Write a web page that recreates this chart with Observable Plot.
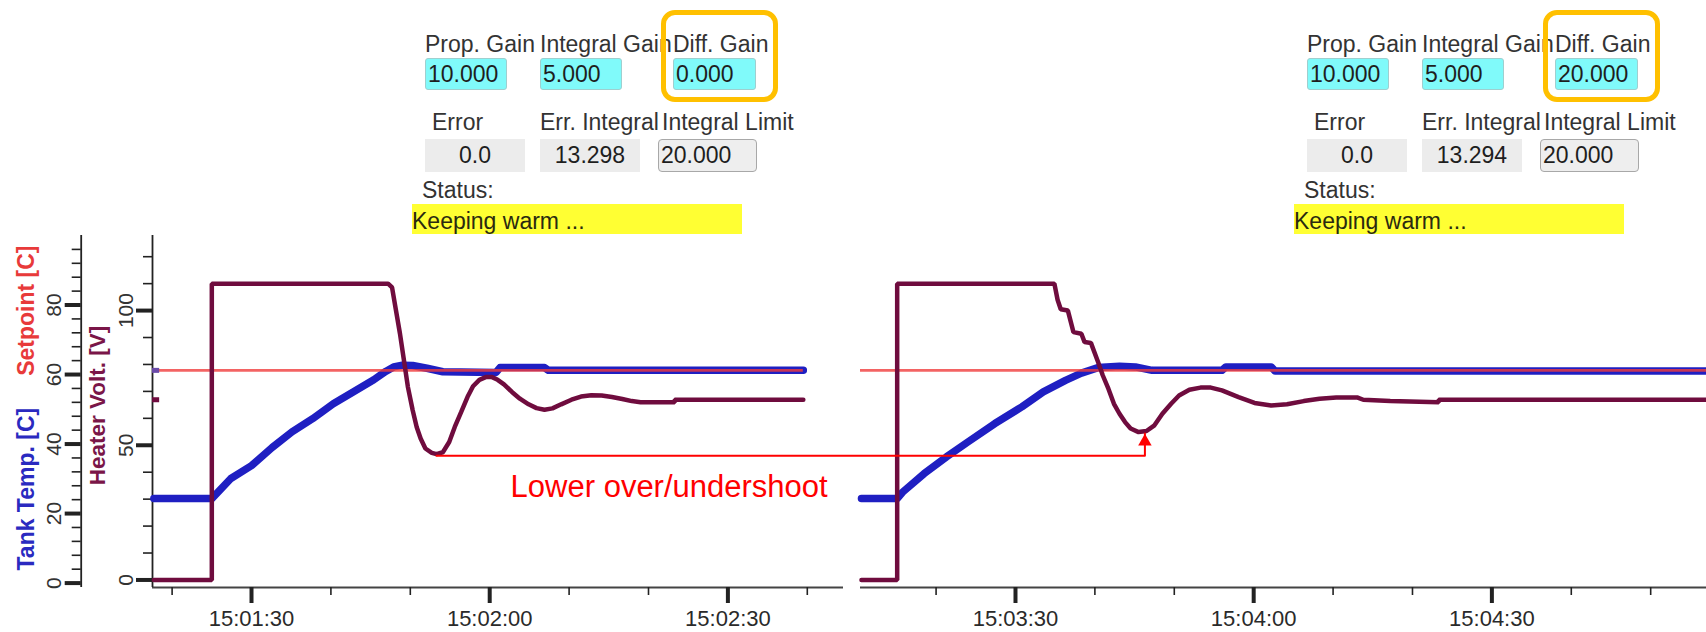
<!DOCTYPE html>
<html><head><meta charset="utf-8">
<script src="https://cdn.jsdelivr.net/npm/d3@7"></script>
<script src="https://cdn.jsdelivr.net/npm/@observablehq/plot@0.6"></script>
<style>
body{margin:0;background:#fff;}
#wrap{position:relative;width:1706px;height:632px;overflow:hidden;font-family:"Liberation Sans",Arial,sans-serif;background:#fff;}
#wrap svg{position:absolute;left:0;top:0;}
.lbl{position:absolute;font-size:23px;line-height:1;color:#333;white-space:nowrap;}
.box{position:absolute;box-sizing:border-box;font-size:23px;white-space:nowrap;color:#1e1e1e;}
</style></head><body><div id="wrap"></div>
<script>
// ---------- data ----------
const leftWindow  = ["15:01:17.53", "15:02:44.56"];
const rightWindow = ["15:03:10.48", "15:04:57.03"];
const setpoint = 61.2;

const leftHeater = [
 ["15:01:17.7",0],["15:01:25.0",0],["15:01:25.0",110],["15:01:47.2",110],["15:01:47.7",108.6],
 ["15:01:48.2",100],["15:01:48.7",91.4],["15:01:49.2",81.5],["15:01:49.7",71.6],["15:01:50.3",63.0],
 ["15:01:50.8",56.8],["15:01:51.3",52.5],["15:01:51.9",48.8],["15:01:52.7",47.2],["15:01:53.3",46.7],
 ["15:01:54.1",47.4],["15:01:54.9",51.2],["15:01:55.6",56.8],["15:01:56.4",62.3],["15:01:57.2",67.9],
 ["15:01:57.9",71.9],["15:01:58.7",74.3],["15:01:59.5",75.3],["15:02:00.3",75.3],["15:02:01.0",74.3],
 ["15:02:01.8",72.6],["15:02:02.8",69.8],["15:02:03.8",67.3],["15:02:04.9",65.2],["15:02:05.9",63.8],
 ["15:02:06.9",63.2],["15:02:07.9",63.7],["15:02:09.0",65.2],["15:02:10.3",66.9],["15:02:11.5",68.1],
 ["15:02:12.8",68.6],["15:02:14.1",68.5],["15:02:15.4",67.9],["15:02:16.7",67.2],["15:02:17.9",66.4],
 ["15:02:19.0",66.0],["15:02:23.3",66.0],["15:02:23.3",66.9],["15:02:39.5",66.9]
];
const leftTemp = [
 ["15:01:17.7",24.3],["15:01:25.0",24.3],["15:01:27.4",30.1],["15:01:30.0",33.8],["15:01:32.6",39.0],
 ["15:01:35.1",43.5],["15:01:37.7",47.3],["15:01:40.3",51.6],["15:01:42.8",55.0],["15:01:45.4",58.5],
 ["15:01:46.9",60.9],["15:01:47.9",62.2],["15:01:49.0",62.7],["15:01:50.3",62.6],["15:01:52.1",61.8],
 ["15:01:54.1",60.8],["15:02:00.8",60.6],["15:02:01.3",62.0],["15:02:06.9",62.0],["15:02:07.4",61.2],
 ["15:02:39.5",61.2]
];
const rightHeater = [
 ["15:03:10.6",0],["15:03:15.1",0],["15:03:15.1",110],["15:03:34.9",110],["15:03:35.3",104],
 ["15:03:35.7",100.5],["15:03:36.6",100],["15:03:37.3",92],["15:03:38.3",91.4],["15:03:38.7",88.3],
 ["15:03:39.5",88.0],["15:03:40.4",80.9],["15:03:41.0",75.9],["15:03:41.7",71.0],["15:03:42.4",65.4],
 ["15:03:43.1",61.7],["15:03:43.8",58.6],["15:03:44.5",56.2],["15:03:45.5",54.9],["15:03:46.5",55.3],
 ["15:03:47.5",57.4],["15:03:48.5",61.7],["15:03:49.6",65.4],["15:03:50.6",68.5],["15:03:51.9",70.6],
 ["15:03:53.3",71.4],["15:03:54.6",71.4],["15:03:56.0",70.4],["15:03:58.1",67.9],["15:04:00.1",65.7],
 ["15:04:02.2",64.8],["15:04:04.2",65.2],["15:04:06.3",66.4],["15:04:08.3",67.3],["15:04:10.4",67.7],
 ["15:04:13.1",67.7],["15:04:13.8",66.9],["15:04:17.2",66.4],["15:04:23.3",66.0],["15:04:23.3",66.9],
 ["15:04:57.0",66.9]
];
const rightTemp = [
 ["15:03:10.6",24.3],["15:03:15.1",24.3],["15:03:15.8",26.2],["15:03:18.5",31.5],["15:03:21.3",36.3],
 ["15:03:24.0",40.6],["15:03:27.4",45.9],["15:03:30.8",50.7],["15:03:33.5",55.0],["15:03:36.3",58.3],
 ["15:03:38.3",60.4],["15:03:40.4",62.0],["15:03:43.1",62.4],["15:03:45.1",62.2],["15:03:47.2",61.2],
 ["15:03:56.0",61.2],["15:03:56.5",62.2],["15:04:02.2",62.2],["15:04:02.7",61.0],["15:04:57.0",61.0]
];

// annotation: left undershoot minimum -> right undershoot minimum
const annotationFrom = ["15:01:53.3", 46.7];
const annotationTo   = ["15:03:46.3", 54.9];
const annotationLabel = [["15:02:22.6", 27.5, "Lower over/undershoot"]];

// ticks
const leftMajorTicks  = ["15:01:30", "15:02:00", "15:02:30"];
const leftMinorTicks  = ["15:01:20", "15:01:40", "15:01:50", "15:02:10", "15:02:20", "15:02:40"];
const rightMajorTicks = ["15:03:30", "15:04:00", "15:04:30"];
const rightMinorTicks = ["15:03:20", "15:03:40", "15:03:50", "15:04:10", "15:04:20", "15:04:40", "15:04:50"];
const tempMajor = [0, 20, 40, 60, 80];
const tempMinor = [4, 8, 12, 16, 24, 28, 32, 36, 44, 48, 52, 56, 64, 68, 72, 76, 84, 88, 92, 96];
const heaterMajor = [0, 50, 100];
const heaterMinor = [10, 20, 30, 40, 60, 70, 80, 90, 110, 120];

// panels
const gainLabels  = ["Prop. Gain", "Integral Gain", "Diff. Gain"];
const stateLabels = ["Error", "Err. Integral", "Integral Limit"];
const gainValues  = [["10.000", "5.000", "0.000"], ["10.000", "5.000", "20.000"]];
const stateValues = [["0.0", "13.298", "20.000"], ["0.0", "13.294", "20.000"]];
const statusText  = ["Keeping warm ...", "Keeping warm ..."];

// ---------- helpers ----------
const P = s => { const [h, m, sec] = s.split(":"); return new Date(Date.UTC(2020, 0, 1, +h, +m) + Math.round(+sec * 1000)); };
const rows = pairs => pairs.map(([t, v]) => ({t: P(t), v}));
const hy = v => 0.9 + 0.775 * v;   // heater volts -> shared vertical unit (temperature axis)

const BLUE = "#1f1fc2", RED = "#f03c3c", MAROON = "#6f0c3e";
const lh = rows(leftHeater), lt = rows(leftTemp), rh = rows(rightHeater), rt = rows(rightTemp);
const xDomain = [...leftWindow, ...rightWindow].map(P);
const yDomain = [-1.27, 100];
const windows = [{start: P(leftWindow[0]), end: P(leftWindow[1])}, {start: P(rightWindow[0]), end: P(rightWindow[1])}];
const setSpans = [{start: P(leftWindow[0]), end: lh[lh.length - 1].t}, {start: P(rightWindow[0]), end: P(rightWindow[1])}];
const fmt = d3.utcFormat("%H:%M:%S");
const majorTicks = [...leftMajorTicks, ...rightMajorTicks].map(P);
const minorTicks = [...leftMinorTicks, ...rightMinorTicks].map(P);
const markerEnd = new Date(+xDomain[0] + 900);
const annLine = [
  {t: P(annotationFrom[0]), v: hy(annotationFrom[1])},
  {t: P(annotationTo[0]), v: hy(annotationFrom[1])},
  {t: P(annotationTo[0]), v: hy(annotationTo[1])}
];
const annTip = [{t: P(annotationTo[0]), v: hy(annotationTo[1])}];
const annText = annotationLabel.map(([t, v, text]) => ({t: P(t), v, text}));

const chart = Plot.plot({
  width: 1706, height: 632,
  marginTop: 235, marginBottom: 45, marginLeft: 152, marginRight: 0,
  style: {fontFamily: "'Liberation Sans', Arial, sans-serif", fontSize: "22px", background: "transparent", color: "#222"},
  x: {type: "utc", domain: xDomain, range: [152, 843, 860, 1706]},
  y: {domain: yDomain},
  marks: [
    // x axes
    Plot.ruleY(windows, {y: () => yDomain[0], x1: "start", x2: "end", stroke: "#444", strokeWidth: 1.8}),
    Plot.axisX({ticks: minorTicks, tickSize: 8, strokeWidth: 1.6, tickFormat: () => "", label: null}),
    Plot.axisX({ticks: majorTicks, tickSize: 16, strokeWidth: 4, tickPadding: 7, tickFormat: fmt, label: null, fontSize: 22, fill: "#2a2a2a"}),
    // temperature axis (outer)
    Plot.ruleX([xDomain[0]], {dx: -71.3, stroke: "#222", strokeWidth: 1.8}),
    Plot.axisY({ticks: tempMinor, tickSize: 9, strokeWidth: 1.6, dx: -71.3, tickFormat: () => "", label: null}),
    Plot.axisY({ticks: tempMajor, tickSize: 16, strokeWidth: 4, dx: -71.3, tickFormat: () => "", label: null}),
    Plot.text(tempMajor, {y: d => d, text: d => String(d), frameAnchor: "left", dx: -92, rotate: -90, textAnchor: "middle", lineAnchor: "bottom", fontSize: 21, fill: "#333"}),
    Plot.text(["Tank Temp. [C]"], {text: d => d, frameAnchor: "bottom-left", dx: -119, dy: -17, rotate: -90, textAnchor: "start", lineAnchor: "bottom", fontSize: 23, fontWeight: "bold", fill: "#2a2ac0"}),
    Plot.text(["Setpoint [C]"], {text: d => d, frameAnchor: "top-left", dx: -119, dy: 10, rotate: -90, textAnchor: "end", lineAnchor: "bottom", fontSize: 23, fontWeight: "bold", fill: "#e83a3a"}),
    // heater axis (inner)
    Plot.ruleX([xDomain[0]], {stroke: "#222", strokeWidth: 1.8}),
    Plot.axisY({ticks: heaterMinor.map(hy), tickSize: 9, strokeWidth: 1.6, tickFormat: () => "", label: null}),
    Plot.axisY({ticks: heaterMajor.map(hy), tickSize: 16, strokeWidth: 4, tickFormat: () => "", label: null}),
    Plot.text(heaterMajor, {y: d => hy(d), text: d => String(d), frameAnchor: "left", dx: -20, rotate: -90, textAnchor: "middle", lineAnchor: "bottom", fontSize: 21, fill: "#333"}),
    Plot.text(["Heater Volt. [V]"], {text: d => d, frameAnchor: "left", dx: -48, dy: -6, rotate: -90, textAnchor: "middle", lineAnchor: "bottom", fontSize: 22.5, fontWeight: "bold", fill: "#7a1648"}),
    // series
    Plot.line(lt, {x: "t", y: "v", stroke: BLUE, strokeWidth: 7.5}),
    Plot.line(rt, {x: "t", y: "v", stroke: BLUE, strokeWidth: 7.5}),
    Plot.ruleY(setSpans, {y: () => setpoint, x1: "start", x2: "end", stroke: RED, strokeWidth: 2.6, strokeOpacity: 0.8}),
    Plot.line(lh, {x: "t", y: d => hy(d.v), stroke: MAROON, strokeWidth: 4.5, strokeLinejoin: "miter"}),
    Plot.line(rh, {x: "t", y: d => hy(d.v), stroke: MAROON, strokeWidth: 4.5, strokeLinejoin: "miter"}),
    // current-value markers on the axis
    Plot.ruleY([lt[lt.length - 1].v], {y: d => d, x1: () => xDomain[0], x2: () => markerEnd, stroke: "#6a4aa8", strokeWidth: 5}),
    Plot.ruleY([hy(lh[lh.length - 1].v)], {y: d => d, x1: () => xDomain[0], x2: () => markerEnd, stroke: MAROON, strokeWidth: 5}),
    // annotation
    Plot.line(annLine, {x: "t", y: "v", stroke: "#ff0000", strokeWidth: 2, dy: 1.5}),
    Plot.dot(annTip, {x: "t", y: "v", symbol: "triangle", r: 5, fill: "#ff0000", stroke: "none", dy: 9.5}),
    Plot.text(annText, {x: "t", y: "v", text: "text", fill: "#ff0000", fontSize: 31, lineAnchor: "middle"})
  ]
});

const wrap = document.getElementById("wrap");
wrap.appendChild(chart);

// ---------- control panels ----------
function el(cls, css, text) {
  const d = document.createElement("div");
  d.className = cls;
  for (const k in css) d.style[k] = typeof css[k] === "number" ? css[k] + "px" : css[k];
  if (text != null) d.textContent = text;
  wrap.appendChild(d);
  return d;
}
[0, 882].forEach((ox, i) => {
  [425, 540, 673].forEach((x, j) => el("lbl", {left: ox + x, top: 33}, gainLabels[j]));
  [[425, 82], [540, 82], [673, 83]].forEach(([x, w], j) =>
    el("box", {left: ox + x, top: 58, width: w, height: 32, lineHeight: "30px", paddingLeft: 2,
      background: "#80fafa", border: "1px solid #9fcfcf", borderRadius: "3px"}, gainValues[i][j]));
  [432, 540, 662].forEach((x, j) => el("lbl", {left: ox + x, top: 111}, stateLabels[j]));
  el("box", {left: ox + 425, top: 139, width: 100, height: 33, lineHeight: "33px", textAlign: "center", background: "#ececec"}, stateValues[i][0]);
  el("box", {left: ox + 540, top: 139, width: 100, height: 33, lineHeight: "33px", textAlign: "center", background: "#ececec"}, stateValues[i][1]);
  el("box", {left: ox + 658, top: 139, width: 99, height: 33, lineHeight: "30px", paddingLeft: 2,
    background: "#eeeeee", border: "1.5px solid #a8a8a8", borderRadius: "4px"}, stateValues[i][2]);
  el("lbl", {left: ox + 422, top: 179}, "Status:");
  el("box", {left: ox + 412, top: 204, width: 330, height: 30, background: "#ffff33"});
  el("lbl", {left: ox + 412, top: 210, color: "#2a2a10"}, statusText[i]);
  el("box", {left: ox + 661, top: 10, width: 117, height: 92, border: "5.5px solid #ffc000", borderRadius: "14px"});
});
</script>
</body></html>
